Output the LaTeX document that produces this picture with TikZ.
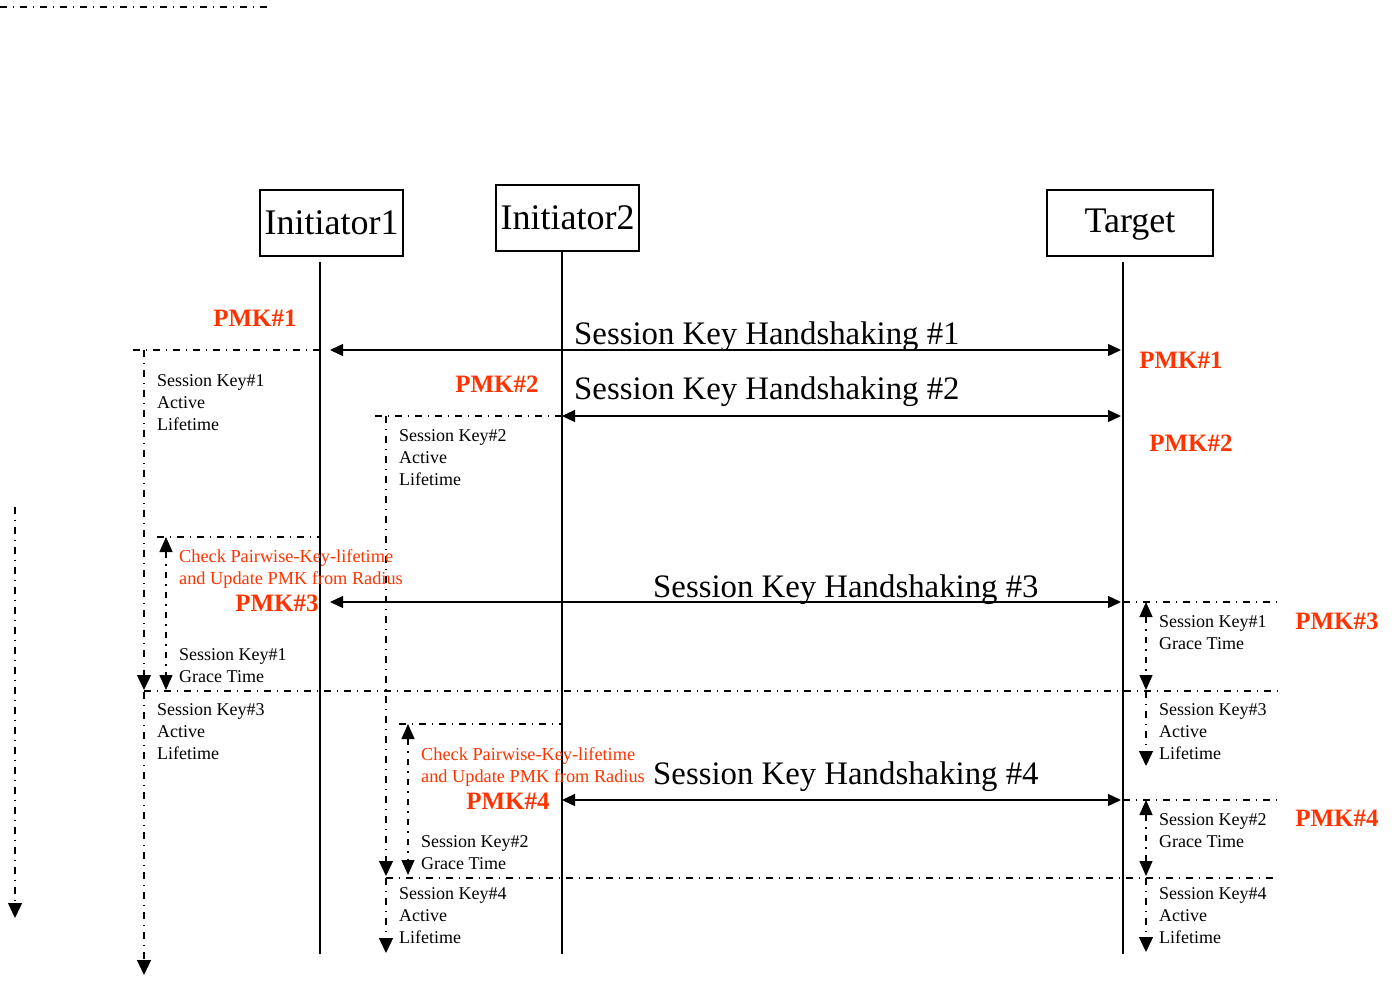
\documentclass[tikz,border=0pt]{standalone}
\usepackage{fontspec}
\setmainfont{Liberation Serif}
\usetikzlibrary{arrows.meta}
\definecolor{pmkred}{RGB}{255,51,0}
\begin{document}
\begin{tikzpicture}[x=1pt,y=-1pt,
  actor/.style={draw, line width=1.3pt, minimum height=66pt, inner sep=0pt,
    font=\fontsize{36}{40}\selectfont},
  life/.style={line width=1.3pt},
  msg/.style={line width=1.3pt,
    {Triangle[length=13pt,width=12pt]}-{Triangle[length=13pt,width=12pt]}},
  msglabel/.style={anchor=base west, inner sep=0pt, font=\fontsize{32.8}{36}\selectfont},
  ddash/.style={line width=1.3pt, dash pattern=on 6.5pt off 6pt on 1.5pt off 6pt},
  tline/.style={ddash, -{Triangle[length=15pt,width=14pt]}},
  span/.style={ddash, {Triangle[length=15pt,width=13pt]}-{Triangle[length=15pt,width=13pt]}},
  note/.style={anchor=north west, inner sep=0pt, align=left,
    font=\fontsize{18}{22}\selectfont},
  rnote/.style={note, text=pmkred, font=\fontsize{18.3}{22}\selectfont},
  pmk/.style={inner sep=0pt, text=pmkred, font=\fontsize{25}{28}\selectfont\bfseries}
]
\useasboundingbox (0,0) rectangle (1397,982);

% actors
\node[actor, minimum width=143pt] (ini1) at (331.5,223) {Initiator1};
\node[actor, minimum width=143pt] (ini2) at (567.5,218) {Initiator2};
\node[actor, minimum width=166pt, text depth=4pt] (tgt) at (1130,223) {Target};

% lifelines
\coordinate (l1a) at (320,262);   \coordinate (l1b) at (320,954);
\coordinate (l2a) at (562,251);   \coordinate (l2b) at (562,954);
\coordinate (l3a) at (1123,262);  \coordinate (l3b) at (1123,954);
\draw[life] (l1a) -- (l1b);
\draw[life] (l2a) -- (l2b);
\draw[life] (l3a) -- (l3b);

% handshakes
\coordinate (h1l) at (330,350);  \coordinate (h1r) at (1121,350);
\coordinate (h2l) at (562,416);  \coordinate (h2r) at (1121,416);
\coordinate (h3l) at (330,602);  \coordinate (h3r) at (1121,602);
\coordinate (h4l) at (562,800);  \coordinate (h4r) at (1121,800);
\draw[msg] (h1l) -- (h1r);
\draw[msg] (h2l) -- (h2r);
\draw[msg] (h3l) -- (h3r);
\draw[msg] (h4l) -- (h4r);
\node[msglabel] (m1) at (574,344) {Session Key Handshaking \#1};
\node[msglabel] (m2) at (574,399) {Session Key Handshaking \#2};
\node[msglabel] (m3) at (653,597) {Session Key Handshaking \#3};
\node[msglabel] (m4) at (653,784) {Session Key Handshaking \#4};

% dash-dot rules
\coordinate (t0a) at (0,7);      \coordinate (t0b) at (272,7);
\coordinate (r1a) at (133,350);  \coordinate (r1b) at (320,350);
\coordinate (r2a) at (375,416);  \coordinate (r2b) at (562,416);
\coordinate (r3a) at (157,537);  \coordinate (r3b) at (320,537);
\coordinate (r4a) at (1123,602); \coordinate (r4b) at (1278,602);
\coordinate (r5a) at (144,691);  \coordinate (r5b) at (1278,691);
\coordinate (r6a) at (399,724);  \coordinate (r6b) at (562,724);
\coordinate (r7a) at (1123,800); \coordinate (r7b) at (1278,800);
\coordinate (r8a) at (386,878);  \coordinate (r8b) at (1278,878);
\foreach \p in {t0,r1,r2,r3,r4,r5,r6,r7,r8}
  \draw[ddash] (\p a) -- (\p b);

% key lifetimes
\coordinate (v1a) at (144,350);  \coordinate (v1b) at (144,690);
\coordinate (v2a) at (144,692);  \coordinate (v2b) at (144,975);
\coordinate (v3a) at (386,416);  \coordinate (v3b) at (386,876);
\coordinate (v4a) at (386,878);  \coordinate (v4b) at (386,953);
\coordinate (v5a) at (1146,691); \coordinate (v5b) at (1146,766);
\coordinate (v6a) at (1146,878); \coordinate (v6b) at (1146,952);
\coordinate (v7a) at (15,507);   \coordinate (v7b) at (15,918);
\foreach \p in {v1,v2,v3,v4,v5,v6,v7}
  \draw[tline] (\p a) -- (\p b);

% grace periods
\coordinate (g1a) at (166,537);  \coordinate (g1b) at (166,690);
\coordinate (g2a) at (1146,602); \coordinate (g2b) at (1146,690);
\coordinate (g3a) at (408,724);  \coordinate (g3b) at (408,875);
\coordinate (g4a) at (1146,800); \coordinate (g4b) at (1146,876);
\foreach \p in {g1,g2,g3,g4}
  \draw[span] (\p a) -- (\p b);

% notes
\node[note] (n1) at (157,374) {Session Key\#1\\Active\\Lifetime};
\node[note] (n2) at (399,429) {Session Key\#2\\Active\\Lifetime};
\node[rnote] (c1) at (179,549) {Check Pairwise-Key-lifetime\\and Update PMK from Radius};
\node[note] (n3) at (179,648) {Session Key\#1\\Grace Time};
\node[note] (n4) at (157,703) {Session Key\#3\\Active\\Lifetime};
\node[rnote] (c2) at (421,747) {Check Pairwise-Key-lifetime\\and Update PMK from Radius};
\node[note] (n5) at (421,835) {Session Key\#2\\Grace Time};
\node[note] (n6) at (399,887) {Session Key\#4\\Active\\Lifetime};
\node[note] (n7) at (1159,615) {Session Key\#1\\Grace Time};
\node[note] (n8) at (1159,703) {Session Key\#3\\Active\\Lifetime};
\node[note] (n9) at (1159,813) {Session Key\#2\\Grace Time};
\node[note] (n10) at (1159,887) {Session Key\#4\\Active\\Lifetime};

% PMK labels
\node[pmk] (p1l) at (255,318) {PMK\#1};
\node[pmk] (p1r) at (1181,360) {PMK\#1};
\node[pmk] (p2l) at (497,384) {PMK\#2};
\node[pmk] (p2r) at (1191,443) {PMK\#2};
\node[pmk] (p3l) at (277,603) {PMK\#3};
\node[pmk] (p3r) at (1337,621) {PMK\#3};
\node[pmk] (p4l) at (508,801) {PMK\#4};
\node[pmk] (p4r) at (1337,818) {PMK\#4};
\end{tikzpicture}
\end{document}
